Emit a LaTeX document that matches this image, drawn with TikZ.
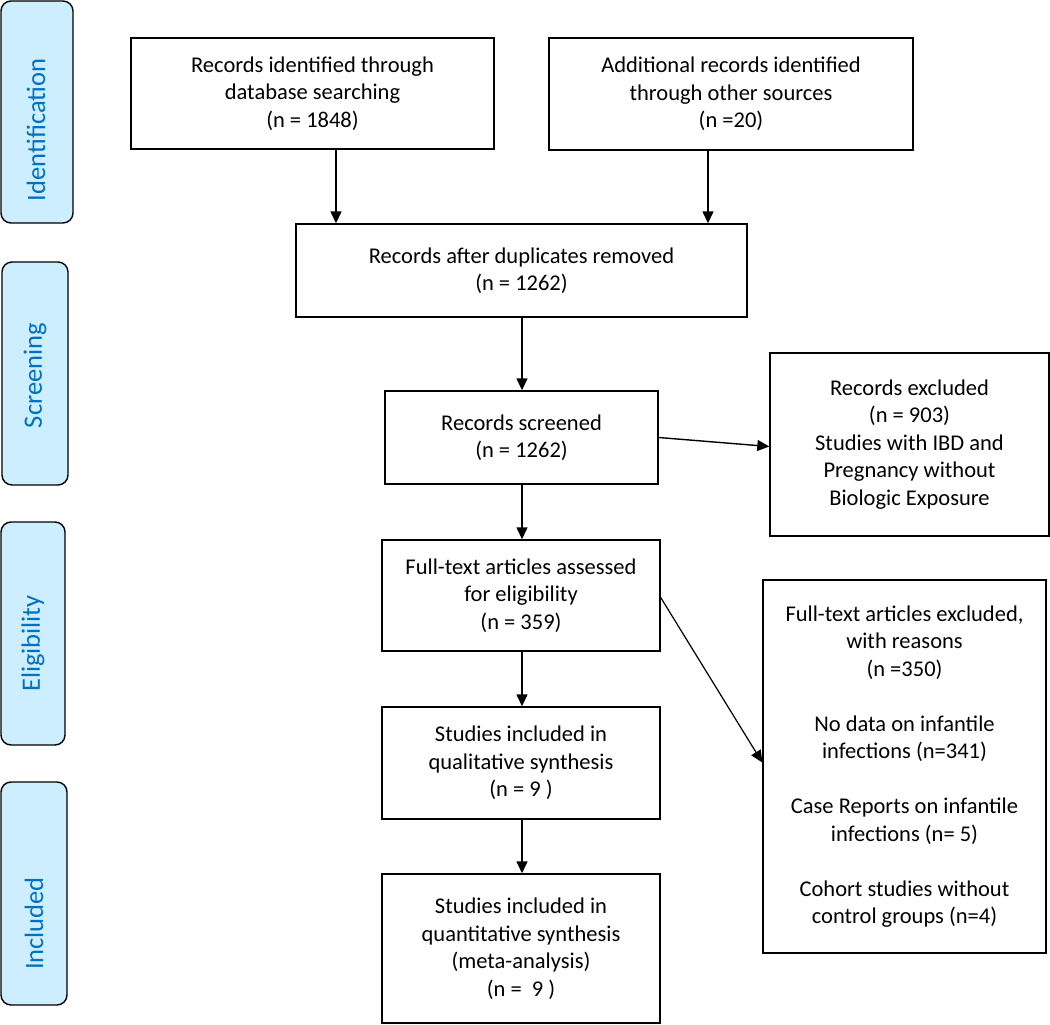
\documentclass[tikz,border=0pt]{standalone}
\usepackage{fontspec}
\setmainfont{Carlito}
\usetikzlibrary{arrows.meta,calc}
\definecolor{bandfill}{RGB}{204,238,255}
\definecolor{bandtext}{RGB}{0,112,192}
\begin{document}
\begin{tikzpicture}[x=1pt,y=-1pt,
  box/.style={draw,line width=1.4pt,align=center,inner sep=0pt,font=\fontsize{22.5}{27.5}\selectfont},
  band/.style={draw,line width=1.4pt,rounded corners=10pt,fill=bandfill,inner sep=0pt},
  bandlabel/.style={rotate=90,text=bandtext,inner sep=0pt,font=\fontsize{26.5}{30}\selectfont},
  arr/.style={-{Triangle[length=12pt,width=11pt]},line width=1.4pt}]
\useasboundingbox (0,0) rectangle (1050,1025);
% side bands
\node[band,minimum width=72pt,minimum height=222pt] (bid) at (37,112) {};
\node[bandlabel] (lid) at ($(bid.center)+(-1,18)$) {Identification};
\node[band,minimum width=66pt,minimum height=223pt] (bsc) at (35,373.5) {};
\node[bandlabel] (lsc) at ($(bsc.center)+(0,2)$) {Screening};
\node[band,minimum width=64pt,minimum height=223pt] (bel) at (33,633.5) {};
\node[bandlabel] (lel) at ($(bel.center)+(0,10)$) {Eligibility};
\node[band,minimum width=66pt,minimum height=223pt] (bin) at (34,893.5) {};
\node[bandlabel] (lin) at ($(bin.center)+(0,30)$) {Included};
% boxes
\node[box,minimum width=363pt,minimum height=111pt] (b1) at (312.5,93.5) {Records identified through\\database searching\\(n = 1848)};
\node[box,minimum width=364pt,minimum height=112pt] (b2) at (731,94) {Additional records identified\\through other sources\\(n =20)};
\node[box,minimum width=451pt,minimum height=93pt] (b3) at (521.5,270.5) {Records after duplicates removed\\(n = 1262)};
\node[box,minimum width=273pt,minimum height=93pt] (b4) at (521.5,437.5) {Records screened\\(n = 1262)};
\node[box,minimum width=279pt,minimum height=183pt] (b5) at (909.5,444.5) {Records excluded\\(n = 903)\\Studies with IBD and\\Pregnancy without\\Biologic Exposure};
\node[box,minimum width=278pt,minimum height=111pt] (b6) at (521,595.5) {Full-text articles assessed\\for eligibility\\(n = 359)};
\node[box,minimum width=283pt,minimum height=373pt] (b7) at (904.5,766.5) {Full-text articles excluded,\\with reasons\\(n =350)\\[27.5pt]No data on infantile\\infections (n=341)\\[27.5pt]Case Reports on infantile\\infections (n= 5)\\[27.5pt]Cohort studies without\\control groups (n=4)};
\node[box,minimum width=278pt,minimum height=112pt] (b8) at (521,763) {Studies included in\\qualitative synthesis\\(n = 9 )};
\node[box,minimum width=278pt,minimum height=149pt] (b9) at (521,948.5) {Studies included in\\quantitative synthesis\\(meta-analysis)\\(n =\ \ 9 )};
% connectors
\coordinate (xa) at (336,0);
\coordinate (xb) at (708,0);
\coordinate (xc) at (522,0);
\draw[arr] (xa |- b1.south) -- (xa |- b3.north);
\draw[arr] (xb |- b2.south) -- (xb |- b3.north);
\draw[arr] (xc |- b3.south) -- (xc |- b4.north);
\draw[arr] (b4.east) -- ($(b5.west)+(0,2)$);
\draw[arr] (xc |- b4.south) -- (xc |- b6.north);
\draw[arr,line width=1.2pt] ($(b6.east)+(0,2)$) -- ($(b7.west)+(0,-4)$);
\draw[arr] (xc |- b6.south) -- (xc |- b8.north);
\draw[arr] (xc |- b8.south) -- (xc |- b9.north);
\end{tikzpicture}
\end{document}
